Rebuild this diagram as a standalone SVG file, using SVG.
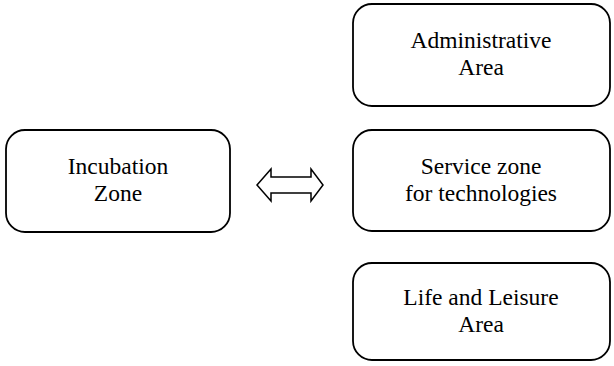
<svg xmlns="http://www.w3.org/2000/svg" width="614" height="366" viewBox="0 0 614 366">
  <style>
    .box { fill: #ffffff; stroke: #000000; stroke-width: 1.8; }
    .lbl { font-family: "Liberation Serif", "Tinos", "Times New Roman", Times, "Noto Serif", "DejaVu Serif", serif; font-size: 23.5px; fill: #000000; text-anchor: middle; }
    .arrow { fill: #ffffff; stroke: #000000; stroke-width: 1.5; stroke-linejoin: miter; }
  </style>
  <rect width="614" height="366" fill="#ffffff"/>

  <g id="incubation">
    <rect class="box" x="6" y="130" width="224" height="102" rx="19" ry="19"/>
    <text class="lbl" x="118" y="174">Incubation</text>
    <text class="lbl" x="118" y="201">Zone</text>
  </g>

  <g id="administrative">
    <rect class="box" x="353" y="4" width="257" height="102" rx="19" ry="19"/>
    <text class="lbl" x="481" y="48">Administrative</text>
    <text class="lbl" x="481" y="75">Area</text>
  </g>

  <g id="service">
    <rect class="box" x="353" y="130" width="257" height="101" rx="19" ry="19"/>
    <text class="lbl" x="481" y="174">Service zone</text>
    <text class="lbl" x="481" y="201">for technologies</text>
  </g>

  <g id="leisure">
    <rect class="box" x="353" y="263" width="257" height="97" rx="19" ry="19"/>
    <text class="lbl" x="481" y="305">Life and Leisure</text>
    <text class="lbl" x="481" y="332">Area</text>
  </g>

  <g id="connectors">
    <polygon class="arrow" points="257,185 271,169 271,177 311,177 311,169 323,185 311,201 311,193 271,193 271,201"/>
  </g>
</svg>
